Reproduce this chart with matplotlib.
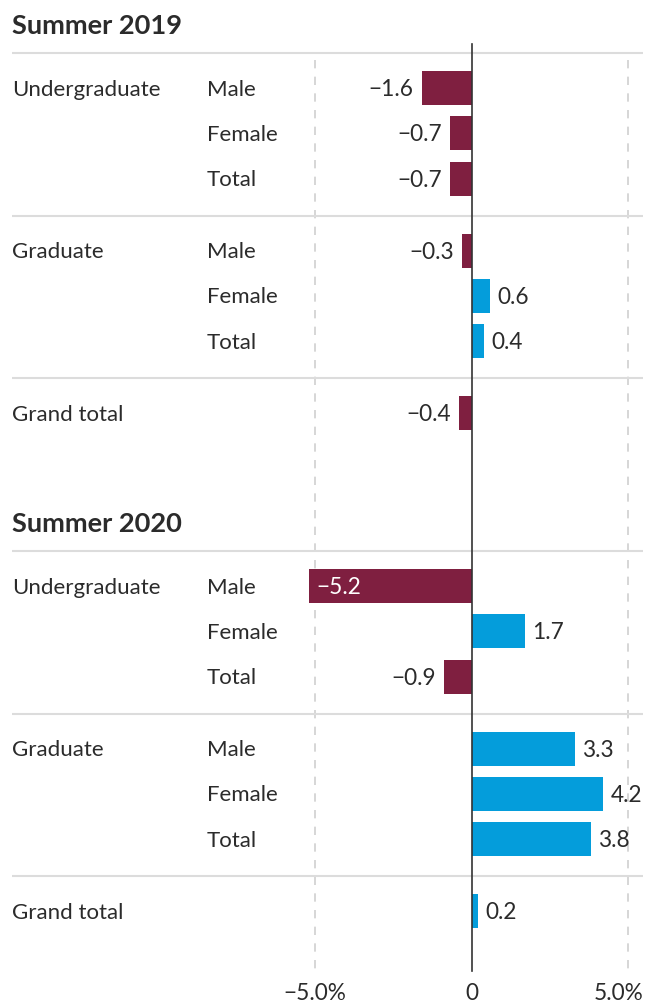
import matplotlib
matplotlib.use("Agg")
import matplotlib.pyplot as plt
from matplotlib.transforms import offset_copy

plt.rcParams['font.family'] = ['Lato', 'DejaVu Sans']

# ---------------- data ----------------
panels = ["Summer 2019", "Summer 2020"]
groups = ["Undergraduate", "Graduate", "Grand total"]
subgroups = ["Male", "Female", "Total"]
ug_2019 = [-1.6, -0.7, -0.7]
grad_2019 = [-0.3, 0.6, 0.4]
grand_2019 = [-0.4]
ug_2020 = [-5.2, 1.7, -0.9]
grad_2020 = [3.3, 4.2, 3.8]
grand_2020 = [0.2]
tick_values = [-5.0, 0.0, 5.0]
tick_labels = ["\u22125.0%", "0", "5.0%"]

panel_data = [
    [ug_2019, grad_2019, grand_2019],
    [ug_2020, grad_2020, grand_2020],
]

# ---------------- style ----------------
NEG = "#7f1f40"
POS = "#049ddb"
TXT = "#2b2b2b"
SEP = "#dcdcdc"
GRID = "#cfcfcf"

W, H = 655, 1005
fig = plt.figure(figsize=(W / 100, H / 100), dpi=100)
ax = fig.add_axes([0, 0, 1, 1])
zero_px = 471.7
ppu = 31.33  # pixels per percent
ax.set_xlim(-zero_px / ppu, (W - zero_px) / ppu)
ax.set_ylim(H, 0)
ax.axis("off")


def px2x(px):
    return (px - zero_px) / ppu


LAB = 16.0
VAL = 16.3
TITLE = 19.6
DY = 1.5  # small text offset downward (px)

panel_top = [53, 551]
title_y = [24, 522]
row_gap = 45.3
group_gap = 162.5
bar_h = 34

# separators and labels
for p, name in enumerate(panels):
    ax.text(px2x(12), title_y[p] + DY, name, fontsize=TITLE, fontweight="bold",
            color=TXT, ha="left", va="center")
    for g, gname in enumerate(groups):
        sep_y = panel_top[p] + g * group_gap
        ax.plot([px2x(12), px2x(643)], [sep_y, sep_y], color=SEP, lw=1.5,
                zorder=1, solid_capstyle="butt")
        vals = panel_data[p][g]
        first_y = sep_y + 35
        ax.text(px2x(12), first_y + DY, gname, fontsize=LAB, color=TXT,
                ha="left", va="center")
        for i, v in enumerate(vals):
            y = first_y + i * row_gap
            if len(vals) > 1:
                ax.text(px2x(207), y + DY, subgroups[i], fontsize=LAB,
                        color=TXT, ha="left", va="center")
            color = POS if v >= 0 else NEG
            ax.barh(y, v, height=bar_h, color=color, zorder=3)
            lab = f"{abs(v):.1f}"
            if v < 0:
                lab = "\u2212" + lab
            if v >= 0:
                tr = offset_copy(ax.transData, fig=fig, x=7, y=0, units="dots")
                ax.text(v, y + DY, lab, transform=tr, fontsize=VAL, color=TXT,
                        ha="left", va="center")
            elif v < -4.5:
                tr = offset_copy(ax.transData, fig=fig, x=8, y=0, units="dots")
                ax.text(v, y + DY, lab, transform=tr, fontsize=VAL,
                        color="white", ha="left", va="center", zorder=4)
            else:
                tr = offset_copy(ax.transData, fig=fig, x=-8, y=0, units="dots")
                ax.text(v, y + DY, lab, transform=tr, fontsize=VAL, color=TXT,
                        ha="right", va="center")

# gridlines
for t in tick_values:
    if t == 0:
        ax.plot([t, t], [44, 971], color="#333333", lw=1.2, zorder=5)
    else:
        ax.plot([t, t], [60, 971], color=GRID, lw=1.2, ls=(0, (5, 5)), zorder=0)

# tick labels
for t, lab in zip(tick_values, tick_labels):
    if t > 0:
        ax.text(px2x(643), 993, lab, fontsize=VAL, color=TXT,
                ha="right", va="center")
    else:
        ax.text(t, 993, lab, fontsize=VAL, color=TXT, ha="center",
                va="center")

fig.savefig("out.png", dpi=100)
